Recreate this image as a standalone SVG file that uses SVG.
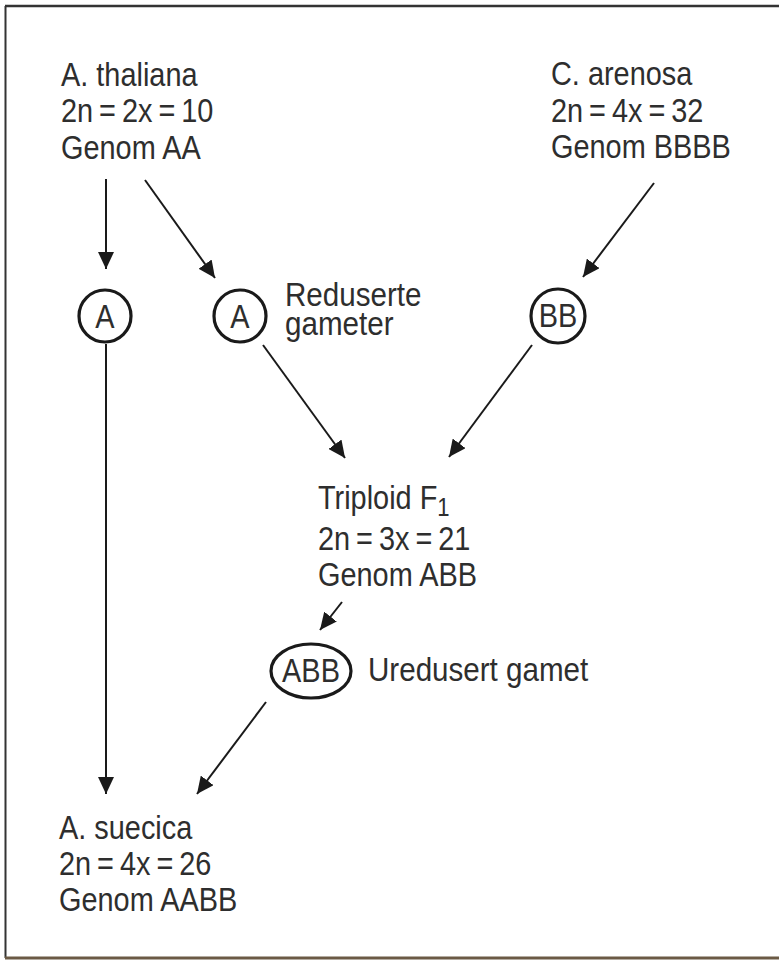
<svg xmlns="http://www.w3.org/2000/svg" width="779" height="962" viewBox="0 0 779 962">
<style>
text{font-family:"Liberation Sans",Arial,sans-serif;font-size:34px;fill:#2e2e2e}
.c{fill:none;stroke:#1a1a1a;stroke-width:3.2}
.e{stroke:#1a1a1a;stroke-width:2;fill:none;marker-end:url(#ah)}
.m{text-anchor:middle}
</style>
<defs>
<marker id="ah" markerUnits="userSpaceOnUse" markerWidth="18" markerHeight="16" refX="17" refY="8" orient="auto">
<path d="M0,0 L17,8 L0,16 z" fill="#1a1a1a"/>
</marker>
</defs>
<rect width="779" height="962" fill="#fff"/>
<g id="frame" fill="none" stroke="#333">
<path d="M5,6 H779" stroke-width="2.5"/>
<path d="M5.5,6 V958" stroke-width="2"/>
<path d="M5,958 H779" stroke-width="3" stroke="#6b5a45"/>
</g>
<g id="thaliana" transform="matrix(0.85 0 0 1 9.15 0)">
<text x="61" y="86">A. thaliana</text>
<text x="61" y="122">2n<tspan dx="7">=</tspan><tspan dx="7">2x</tspan><tspan dx="7">=</tspan><tspan dx="7">10</tspan></text>
<text x="61" y="159">Genom AA</text>
</g>
<g id="arenosa" transform="matrix(0.85 0 0 1 82.65 0)">
<text x="551" y="85">C. arenosa</text>
<text x="551" y="122">2n<tspan dx="7">=</tspan><tspan dx="7">4x</tspan><tspan dx="7">=</tspan><tspan dx="7">32</tspan></text>
<text x="551" y="158">Genom BBBB</text>
</g>
<g id="gameteA1">
<circle class="c" cx="105" cy="316" r="26"/>
<text class="m" x="105" y="328" transform="matrix(0.85 0 0 1 15.75 0)">A</text>
</g>
<g id="gameteA2">
<circle class="c" cx="240" cy="316" r="26"/>
<text class="m" x="240" y="328" transform="matrix(0.85 0 0 1 36 0)">A</text>
<g transform="matrix(0.87 0 0 1 37.05 0)">
<text x="285" y="306" font-size="31">Reduserte</text>
<text x="285" y="335" font-size="31">gameter</text>
</g>
</g>
<g id="gameteBB">
<circle class="c" cx="558" cy="316" r="27"/>
<text class="m" x="558" y="327" font-size="32" transform="matrix(0.85 0 0 1 83.7 0)">BB</text>
</g>
<g id="triploid" transform="matrix(0.85 0 0 1 47.7 0)">
<text x="318" y="509">Triploid F<tspan font-size="26" dy="7">1</tspan></text>
<text x="318" y="550">2n<tspan dx="7">=</tspan><tspan dx="7">3x</tspan><tspan dx="7">=</tspan><tspan dx="7">21</tspan></text>
<text x="318" y="586">Genom ABB</text>
</g>
<g id="gameteABB">
<ellipse class="c" cx="311" cy="671" rx="40" ry="27"/>
<text class="m" x="311" y="682" font-size="31" transform="matrix(0.85 0 0 1 46.65 0)">ABB</text>
<text x="368" y="681" transform="matrix(0.87 0 0 1 47.84 0)">Uredusert gamet</text>
</g>
<g id="suecica" transform="matrix(0.85 0 0 1 8.85 0)">
<text x="59" y="839">A. suecica</text>
<text x="59" y="875">2n<tspan dx="7">=</tspan><tspan dx="7">4x</tspan><tspan dx="7">=</tspan><tspan dx="7">26</tspan></text>
<text x="59" y="911">Genom AABB</text>
</g>
<g id="connectors">
<line class="e" x1="106" y1="179" x2="106" y2="269"/>
<line class="e" x1="145" y1="180" x2="215" y2="278"/>
<line class="e" x1="654" y1="183" x2="583" y2="277"/>
<line class="e" x1="106" y1="344" x2="106" y2="794"/>
<line class="e" x1="263" y1="345" x2="345" y2="458"/>
<line class="e" x1="532" y1="345" x2="449" y2="457"/>
<line class="e" x1="342" y1="602" x2="320" y2="630"/>
<line class="e" x1="266" y1="702" x2="197" y2="794"/>
</g>
</svg>
